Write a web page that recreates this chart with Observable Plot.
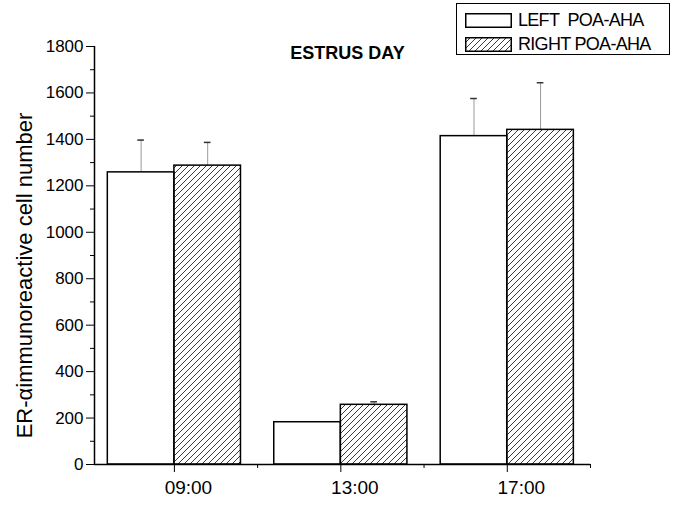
<!DOCTYPE html>
<html><head><meta charset="utf-8">
<script src="https://cdn.jsdelivr.net/npm/d3@7"></script>
<script src="https://cdn.jsdelivr.net/npm/@observablehq/plot@0.6"></script>
<style>
body{margin:0;background:#fff;font-family:"Liberation Sans",Arial,sans-serif;}
#wrap{position:relative;width:680px;height:512px;}
#legend{position:absolute;left:456px;top:3px;width:214px;height:52px;border:1.5px solid #000;box-sizing:border-box;background:#fff;}
.row{position:absolute;left:8px;display:flex;align-items:center;font-size:18px;letter-spacing:-0.7px;white-space:pre;line-height:1;}
.sw{display:block;margin-right:6px;}
</style></head><body>
<svg width="0" height="0" style="position:absolute"><defs>
<pattern id="hatch" patternUnits="userSpaceOnUse" width="6" height="6">
<path d="M-1,1 l2,-2 M0,6 l6,-6 M5,7 l2,-2" stroke="#222" stroke-width="0.9"/>
</pattern></defs></svg>
<div id="wrap"></div>
<script>
// ---- data ----
const times = ["09:00", "13:00", "17:00"];
const seriesNames = ["LEFT  POA-AHA", "RIGHT POA-AHA"];
const leftMean = [1258, 182, 1414];
const leftErr = [139, 0, 162];
const rightMean = [1287, 257, 1441];
const rightErr = [100, 13, 203];
const yTicks = [0, 200, 400, 600, 800, 1000, 1200, 1400, 1600, 1800];
const yMinorTicks = [100, 300, 500, 700, 900, 1100, 1300, 1500, 1700];
const titleText = "ESTRUS DAY";
const yLabel = "ER-\u03b1immunoreactive cell number";

// ---- layout ----
const barW = 0.4, capW = 0.02;
const xDomain = [-0.48, 2.5];
const rows = [];
times.forEach((t, i) => {
  rows.push({t, i, side: "L", mean: leftMean[i], err: leftErr[i], x1: i - barW, x2: i, c: i - barW / 2});
  rows.push({t, i, side: "R", mean: rightMean[i], err: rightErr[i], x1: i, x2: i + barW, c: i + barW / 2});
});
const errRows = rows.filter(d => d.err > 0);
const font = "Liberation Sans, Arial, sans-serif";

const chart = Plot.plot({
  width: 680, height: 512,
  marginLeft: 94, marginRight: 90, marginTop: 46, marginBottom: 48,
  x: {domain: xDomain},
  y: {domain: [0, 1800]},
  style: {fontFamily: font, color: "#000", background: "transparent"},
  marks: [
    Plot.ruleX(errRows, {x: "c", y1: "mean", y2: d => d.mean + d.err, stroke: "#9a9a9a", strokeWidth: 1}),
    Plot.ruleY(errRows, {y: d => d.mean + d.err, x1: d => d.c - capW, x2: d => d.c + capW, stroke: "#333", strokeWidth: 1.5}),
    Plot.rectY(rows.filter(d => d.side === "L"), {x1: "x1", x2: "x2", y: "mean", fill: "white", stroke: "#000", strokeWidth: 1.5}),
    Plot.rectY(rows.filter(d => d.side === "R"), {x1: "x1", x2: "x2", y: "mean", fill: "url(#hatch)", stroke: "#000", strokeWidth: 1.5}),
    Plot.axisY({ticks: yTicks, tickSize: 8, tickPadding: 3, fontSize: 17, tickFormat: d3.format("d"), label: null}),
    Plot.axisY({ticks: yMinorTicks, tickSize: 4, tickFormat: () => "", label: null}),
    Plot.axisX({ticks: [0, 1, 2], tickSize: 8, tickFormat: () => "", label: null}),
    Plot.axisX({ticks: [0, 1, 2], tickSize: 0, tickPadding: 16, tickFormat: i => times[i], dx: 14, fontSize: 19, label: null}),
    Plot.axisX({ticks: [0.5, 1.5, 2.5], tickSize: 4, tickFormat: () => "", label: null}),
    Plot.ruleY([0], {strokeWidth: 1.5}),
    Plot.ruleX([xDomain[0]], {y1: 0, y2: 1800, strokeWidth: 1.5}),
    Plot.text([titleText], {frameAnchor: "top", dx: 5, dy: 0, lineAnchor: "top", fontWeight: "bold", fontSize: 18}),
    Plot.text([yLabel], {frameAnchor: "left", textAnchor: "middle", rotate: -90, dx: -70, dy: 20, fontSize: 22})
  ]
});
const wrap = document.getElementById("wrap");
wrap.appendChild(chart);

// legend
const legend = document.createElement("div");
legend.id = "legend";
const fills = ["white", "url(#hatch)"];
seriesNames.forEach((name, k) => {
  const row = document.createElement("div");
  row.className = "row";
  row.style.top = (k === 0 ? 7 : 31) + "px";
  row.innerHTML = `<svg class="sw" width="47" height="15"><rect x="0.75" y="0.75" width="45.5" height="13.5" fill="${fills[k]}" stroke="#000" stroke-width="1.5"/></svg><span>${name}</span>`;
  legend.appendChild(row);
});
wrap.appendChild(legend);
</script>
</body></html>
